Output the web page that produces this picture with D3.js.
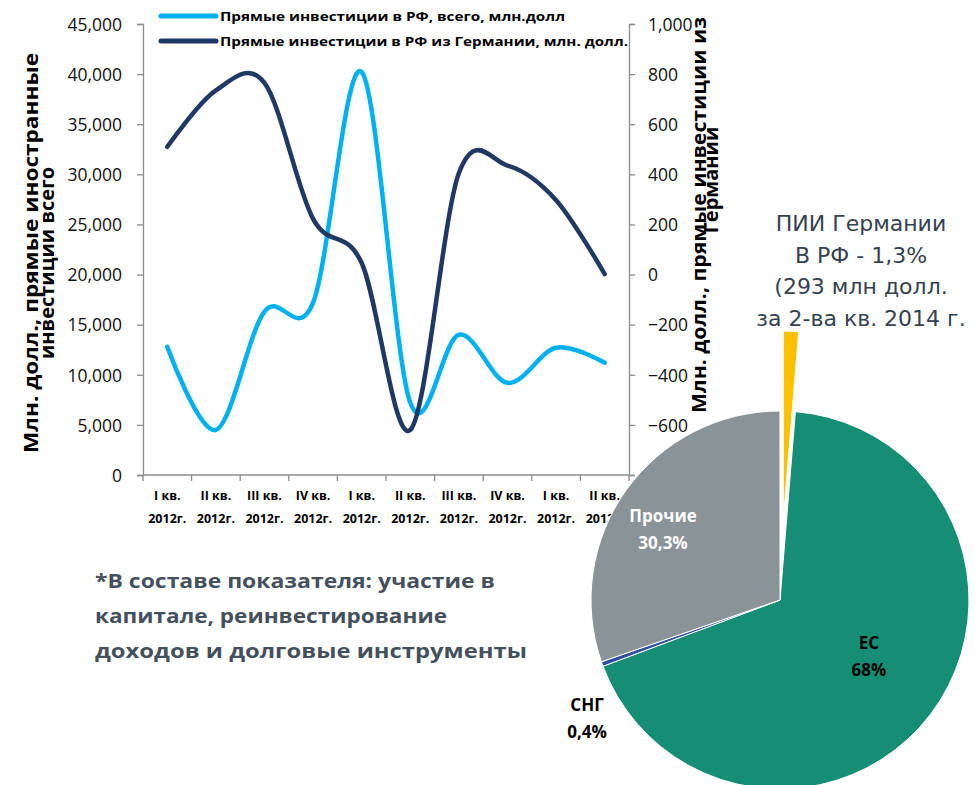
<!DOCTYPE html>
<html><head><meta charset="utf-8">
<script src="https://cdn.jsdelivr.net/npm/d3@7"></script>
<style>
html,body{margin:0;padding:0;background:#fff;}
svg{display:block;}
</style></head>
<body>
<svg id="c" width="975" height="785"></svg>
<script>
// ---- data ----
const quarters = ["I кв.","II кв.","III кв.","IV кв.","I кв.","II кв.","III кв.","IV кв.","I кв.","II кв."];
const years = ["2012г.","2012г.","2012г.","2012г.","2012г.","2012г.","2012г.","2012г.","2012г.","2012г."];
const fdiTotal = [12800, 4500, 16300, 17200, 40200, 7200, 14000, 9200, 12700, 11200];
const fdiGermany = [510, 735, 765, 222, 46, -620, 405, 435, 297, 2];
const leftTicks = [0,5000,10000,15000,20000,25000,30000,35000,40000,45000];
const rightTicks = [-800,-600,-400,-200,0,200,400,600,800,1000];
const seriesNames = ["Прямые инвестиции в РФ, всего, млн.долл","Прямые инвестиции в РФ из Германии, млн. долл."];
const pieLabels = ["Германия","ЕС","СНГ","Прочие"];
const pieShares = [1.3, 68, 0.4, 30.3];
const pieText = [null, ["ЕС","68%"], ["СНГ","0,4%"], ["Прочие","30,3%"]];
const noteLines = ["ПИИ Германии","В РФ - 1,3%","(293 млн долл.","за 2-ва кв. 2014 г."];
const footLines = ["*В составе показателя: участие в","капитале, реинвестирование","доходов и долговые инструменты"];

const svg = d3.select("#c");
const L = 143, R = 629, T = 24, B = 475;
const colLight = "#00B0F0", colDark = "#1F3864";

const x = d3.scaleBand().domain(d3.range(quarters.length)).range([L, R]);
const yL = d3.scaleLinear().domain([0,45000]).range([B, T]);
const yR = d3.scaleLinear().domain([-800,1000]).range([B, T]);
const cx = i => x(i) + x.bandwidth()/2;
const fmt = d3.format(",");

// left axis
const gL = svg.append("g").attr("transform",`translate(${L},0)`)
  .call(d3.axisLeft(yL).tickValues(leftTicks).tickFormat(fmt).tickSize(6).tickPadding(15));
// right axis
const gR = svg.append("g").attr("transform",`translate(${R},0)`)
  .call(d3.axisRight(yR).tickValues(rightTicks).tickFormat(fmt).tickSize(6).tickPadding(13));
[gL,gR].forEach(g=>{
  g.select(".domain").attr("stroke","#8c8c8c").attr("stroke-width",1.3);
  g.selectAll(".tick line").attr("stroke","#8c8c8c").attr("stroke-width",1.3);
  g.selectAll(".tick text").attr("font-family","Open Sans").attr("font-size",17.5).attr("fill","#111").attr("dy","0.36em");
});
// x axis
const gX = svg.append("g").attr("transform",`translate(0,${B})`);
gX.append("line").attr("x1",L).attr("x2",R).attr("stroke","#8c8c8c").attr("stroke-width",1.3);
gX.selectAll("line.t").data(d3.range(quarters.length+1)).join("line").attr("class","t")
  .attr("x1",i=>L + i*x.bandwidth()).attr("x2",i=>L + i*x.bandwidth())
  .attr("y1",0).attr("y2",6).attr("stroke","#8c8c8c").attr("stroke-width",1.3);
const xl = gX.selectAll("text.q").data(quarters).join("text").attr("class","q")
  .attr("x",(d,i)=>cx(i)).attr("text-anchor","middle")
  .attr("font-family","Open Sans").attr("font-weight","bold").attr("font-size",12.5).attr("fill","#000");
xl.append("tspan").attr("x",(d,i)=>cx(i)).attr("y",25).text(d=>d);
xl.append("tspan").attr("x",(d,i)=>cx(i)).attr("y",48).text((d,i)=>years[i]);

// lines
const curve = d3.curveCardinal.tension(0);
svg.append("path").datum(fdiTotal)
  .attr("d", d3.line().x((d,i)=>cx(i)).y(d=>yL(d)).curve(curve))
  .attr("fill","none").attr("stroke",colLight).attr("stroke-width",4.5).attr("stroke-linecap","round");
svg.append("path").datum(fdiGermany)
  .attr("d", d3.line().x((d,i)=>cx(i)).y(d=>yR(d)).curve(curve))
  .attr("fill","none").attr("stroke",colDark).attr("stroke-width",4.5).attr("stroke-linecap","round");

// legend
[colLight,colDark].forEach((c,i)=>{
  const y = 16 + i*25;
  svg.append("line").attr("x1",161).attr("x2",216).attr("y1",y).attr("y2",y)
    .attr("stroke",c).attr("stroke-width",5).attr("stroke-linecap","round");
  svg.append("text").attr("x",220).attr("y",y).attr("dy","0.35em")
    .attr("font-family","Open Sans").attr("font-weight","bold").attr("font-size",13)
    .attr("textLength", i===0?345:408).attr("lengthAdjust","spacingAndGlyphs")
    .attr("fill","#000").text(seriesNames[i]);
});

// axis titles
const tL = svg.append("text").attr("transform","translate(38,253) rotate(-90)")
  .attr("text-anchor","middle").attr("font-family","Open Sans").attr("font-weight","bold")
  .attr("font-size",20).attr("fill","#000");
tL.append("tspan").attr("x",0).attr("y",0).attr("textLength",400).attr("lengthAdjust","spacingAndGlyphs").text("Млн. долл., прямые иностранные");
tL.append("tspan").attr("x",-10).attr("y",16).text("инвестиции всего");
const tR = svg.append("text").attr("transform","translate(706,215) rotate(-90)")
  .attr("text-anchor","middle").attr("font-family","Open Sans").attr("font-weight","bold")
  .attr("font-size",20).attr("fill","#000");
tR.append("tspan").attr("x",0).attr("y",0).attr("textLength",396).attr("lengthAdjust","spacingAndGlyphs").text("Млн. долл., прямые инвестиции из");
tR.append("tspan").attr("x",35).attr("y",12).text("Германии");

// footnote
svg.append("g").selectAll("text").data(footLines).join("text")
  .attr("x",95).attr("y",(d,i)=>588 + i*35)
  .attr("font-family","Open Sans").attr("font-weight","bold").attr("font-size",20)
  .attr("fill","#44505c").text(d=>d)
  .attr("textLength",(d,i)=>[400,352,432][i]).attr("lengthAdjust","spacingAndGlyphs");

// annotation
svg.append("g").selectAll("text").data(noteLines).join("text")
  .attr("x",861).attr("y",(d,i)=>231 + i*31.5).attr("text-anchor","middle")
  .attr("font-family","DejaVu Sans").attr("font-size",22).attr("fill","#35414f")
  .text(d=>d);

// pie
const pcx = 780, pcy = 600, pr = 189;
const pieColors = ["#FFC000","#168E76","#2F4FA0","#8A9398"];
const arcs = d3.pie().sort(null)(pieShares);
const arc = d3.arc().innerRadius(0).outerRadius(pr);
const gP = svg.append("g").attr("transform",`translate(${pcx},${pcy})`);
gP.selectAll("path").data(arcs).join("path")
  .attr("d",arc).attr("fill",(d,i)=>pieColors[i])
  .attr("stroke","#fff").attr("stroke-width",1)
  .attr("transform",(d,i)=>{
    if(i!==0) return null;
    const a = (d.startAngle+d.endAngle)/2, off = 80;
    return `translate(${Math.sin(a)*off},${-Math.cos(a)*off})`;
  });
const lblPos = [null,[89,49],[-193,111],[-117,-78]];
const lblCol = [null,"#000","#000","#fff"];
arcs.forEach((d,i)=>{
  if(!pieText[i]) return;
  const t = gP.append("text").attr("text-anchor","middle")
    .attr("font-family","Open Sans").attr("font-weight","bold").attr("font-size",17)
    .attr("fill",lblCol[i]);
  pieText[i].forEach((s,k)=>t.append("tspan").attr("x",lblPos[i][0]).attr("y",lblPos[i][1]+k*26.5).text(s));
});
</script>
</body></html>
